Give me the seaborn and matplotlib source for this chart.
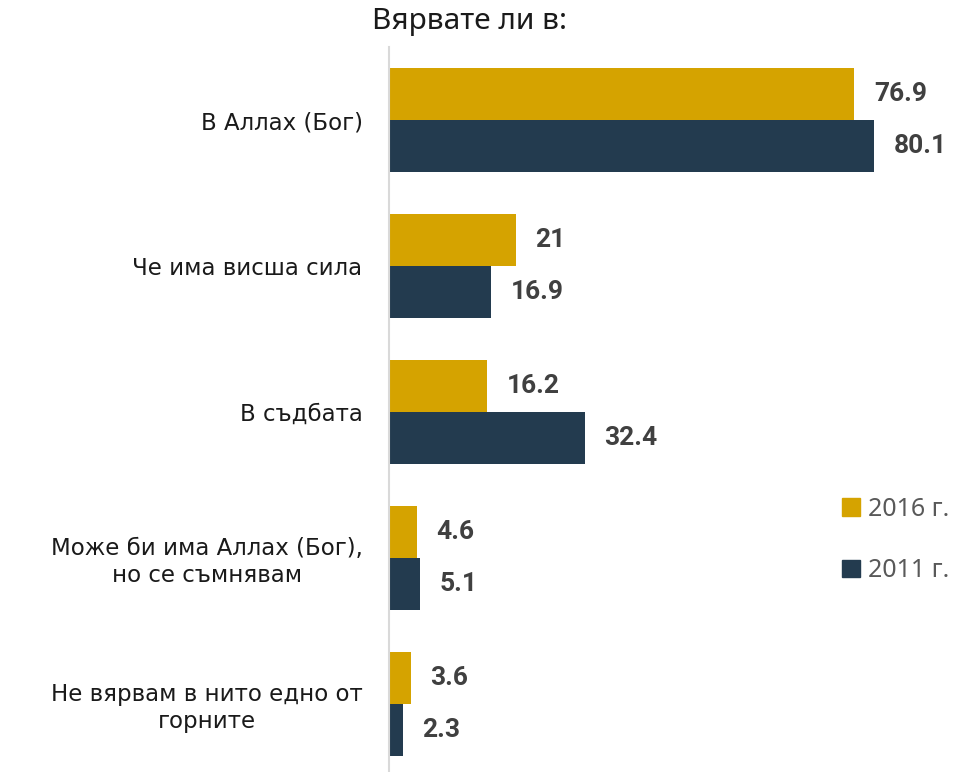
import matplotlib
matplotlib.use("Agg")
import matplotlib.pyplot as plt
from matplotlib.patches import Patch
import seaborn as sns
import pandas as pd

categories = ["В Аллах (Бог)", "Че има висша сила", "В съдбата",
              "Може би има Аллах (Бог),\nно се съмнявам",
              "Не вярвам в нито едно от\nгорните"]
years = ["2016 г.", "2011 г."]
values_2016 = [76.9, 21, 16.2, 4.6, 3.6]
values_2011 = [80.1, 16.9, 32.4, 5.1, 2.3]
colors = ["#D5A300", "#233B4F"]

df = pd.DataFrame({
    "cat": categories * 2,
    "year": [years[0]] * 5 + [years[1]] * 5,
    "val": values_2016 + values_2011,
})

sns.set_style("white")
plt.rcParams["font.family"] = ["DejaVu Sans"]

fig = plt.figure(figsize=(9.61, 7.72), dpi=100)
ax = fig.add_axes([389 / 961, -5 / 772, 1 - 389 / 961, 730 / 772])

sns.barplot(data=df, y="cat", x="val", hue="year", order=categories,
            hue_order=years, palette=colors, width=0.712, ax=ax,
            orient="h", saturation=1, legend=False, linewidth=0)

ax.set_xlim(0, 94.5)
ax.set_ylim(4.5, -0.5)
ax.set_xlabel("")
ax.set_ylabel("")
ax.set_xticks([])
for s in ["top", "right", "bottom"]:
    ax.spines[s].set_visible(False)
ax.spines["left"].set_color("#D9D9D9")
ax.spines["left"].set_linewidth(1.5)
ax.tick_params(axis="y", length=0, pad=19, labelsize=16.5, labelcolor="#1A1A1A")
for lbl in ax.get_yticklabels():
    lbl.set_multialignment("center")

for cont in ax.containers:
    labels = [f"{v:g}" for v in cont.datavalues]
    ax.bar_label(cont, labels=labels, padding=14, fontsize=19,
                 fontweight="bold", color="#404040", family="Roboto")

handles = [Patch(color=c) for c in colors]
fig.legend(handles, years, loc="center left", bbox_to_anchor=(842 / 961, 1 - 540 / 772),
           frameon=False, prop={"family": "Noto Sans", "size": 18},
           labelcolor="#595959", labelspacing=1.45, borderpad=0, borderaxespad=0,
           handlelength=0.7, handleheight=0.7, handletextpad=0.35)

fig.text(469 / 961, 1 - 22 / 772, "Вярвате ли в:", ha="center", va="center",
         fontsize=21.5, color="#1A1A1A", family="Noto Sans")

fig.savefig("out.png", dpi=100)
